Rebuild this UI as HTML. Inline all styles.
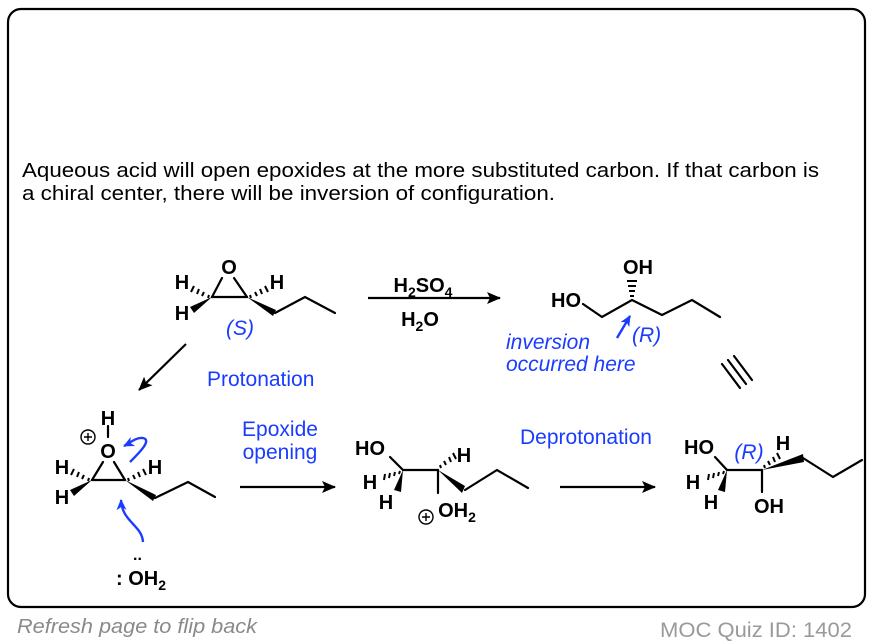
<!DOCTYPE html>
<html><head><meta charset="utf-8"><style>
html,body{margin:0;padding:0;background:#fff;}
svg{display:block;font-family:"Liberation Sans",sans-serif;}
.b{font-weight:bold;font-size:20px;fill:#000;}
.bl{fill:#1a3cff;font-size:21px;}
</style></head><body>
<svg width="872" height="642" viewBox="0 0 872 642" xmlns="http://www.w3.org/2000/svg">
<defs>
<marker id="ah" markerWidth="14" markerHeight="12" refX="13" refY="6" orient="auto" markerUnits="userSpaceOnUse"><path d="M0,0 L14,6 L0,12 L3,6 Z" fill="#000"/></marker>
<marker id="bh" markerWidth="12" markerHeight="10" refX="10" refY="5" orient="auto" markerUnits="userSpaceOnUse"><path d="M0,0 L11,5 L0,10 L3,5 Z" fill="#1a3cff"/></marker>
</defs>
<rect x="8" y="9" width="857" height="598" rx="13" fill="none" stroke="#000" stroke-width="2.2"/>
<text x="22" y="177" font-size="20" textLength="797" lengthAdjust="spacingAndGlyphs">Aqueous acid will open epoxides at the more substituted carbon. If that carbon is</text>
<text x="22" y="200" font-size="20" textLength="533" lengthAdjust="spacingAndGlyphs">a chiral center, there will be inversion of configuration.</text>
<text x="17" y="633" font-size="20.5" font-style="italic" fill="#8a8a8a" textLength="240" lengthAdjust="spacingAndGlyphs">Refresh page to flip back</text>
<text x="852" y="637" font-size="21" fill="#9a9a9a" text-anchor="end" textLength="192" lengthAdjust="spacingAndGlyphs">MOC Quiz ID: 1402</text>

<g stroke="#000" stroke-width="2.2" fill="none" stroke-linecap="round">
<line x1="222" y1="278" x2="212" y2="297"/><line x1="234" y1="278" x2="247" y2="297"/>
<line x1="212" y1="297" x2="247" y2="297"/>
<polyline points="275,313 305,297 335,313"/>
<polyline points="583,304 602,317 632,300 662,315 692,300 720,317"/>
<line x1="108" y1="426" x2="108" y2="437"/>
<line x1="103" y1="462" x2="92" y2="480"/><line x1="114" y1="462" x2="125" y2="480"/>
<line x1="92" y1="480" x2="125" y2="480"/>
<polyline points="155,498 188,482 215,497"/>
<line x1="390" y1="457" x2="403" y2="470"/><line x1="403" y1="470" x2="438" y2="470"/>
<line x1="438" y1="470" x2="438" y2="493"/>
<polyline points="465,490 497,470 528,488"/>
<line x1="715" y1="457" x2="727" y2="470"/><line x1="727" y1="470" x2="762" y2="470"/>
<line x1="762" y1="470" x2="762" y2="492"/>
<polyline points="803,458 833,477 862,460"/>
<line x1="722" y1="364" x2="740" y2="388"/><line x1="728" y1="360" x2="746" y2="384"/><line x1="734" y1="356" x2="752" y2="380"/>
</g>
<g stroke="#000" stroke-width="2.2">
<line x1="368" y1="298" x2="500" y2="298" marker-end="url(#ah)"/>
<line x1="186" y1="344" x2="139" y2="390" marker-end="url(#ah)"/>
<line x1="240" y1="487" x2="335" y2="487" marker-end="url(#ah)"/>
<line x1="560" y1="487" x2="655" y2="487" marker-end="url(#ah)"/>
</g>
<g fill="#000">
<polygon points="212,297 190,307 194,313"/>
<polygon points="247,297 276,310 273,316"/>
<polygon points="92,480 70,490 74,496"/>
<polygon points="125,480 156,495 153,501"/>
<polygon points="403,470 394,490 401,492"/>
<polygon points="438,470 465,486 462,493"/>
<polygon points="727,470 718,490 725,492"/>
<polygon points="762,470 803,454 804,462"/>
</g>
<g stroke="#000" stroke-width="2">
<path d="M209,295 l-1,3 M204,292 l-2,4 M199,289 l-2,5 M194,286 l-3,6"/>
<path d="M250,295 l1,3 M255,292 l2,4 M260,289 l2,5 M265,286 l3,6"/>
<path d="M89,478 l-1,3 M84,475 l-2,4 M79,472 l-2,5 M74,469 l-3,6"/>
<path d="M128,478 l1,3 M133,475 l2,4 M138,472 l2,5 M143,469 l3,6"/>
<path d="M630,296 h4 M629,291 h6 M628,286 h8 M627,281 h10"/>
<path d="M400,471 l-1,3 M395,472 l-1,4 M390,473 l-1,5 M385,474 l-1,6"/>
<path d="M441,468 l-1,-3 M446,465 l-2,-4 M451,462 l-2,-5 M456,459 l-3,-6"/>
<path d="M724,471 l-1,3 M719,472 l-1,4 M714,473 l-1,5 M709,474 l-1,6"/>
<path d="M765,468 l-1,-3 M770,465 l-2,-4 M775,462 l-2,-5 M780,459 l-3,-6"/>
</g>
<g class="b" text-anchor="middle">
<text x="229" y="274">O</text>
<text x="182" y="289">H</text><text x="182" y="320">H</text><text x="277" y="289">H</text>
<text x="423" y="292">H<tspan font-size="14" dy="5">2</tspan><tspan dy="-5">SO</tspan><tspan font-size="14" dy="5">4</tspan></text>
<text x="420" y="326">H<tspan font-size="14" dy="5">2</tspan><tspan dy="-5">O</tspan></text>
<text x="566" y="307">HO</text><text x="638" y="274">OH</text>
<text x="108" y="425">H</text><text x="108" y="458">O</text>
<text x="62" y="474">H</text><text x="62" y="504">H</text><text x="155" y="474">H</text>
<text x="141" y="585">: OH<tspan font-size="14" dy="5">2</tspan></text>
<text x="370" y="455">HO</text><text x="370" y="489">H</text><text x="386" y="509">H</text><text x="464" y="462">H</text>
<text x="457" y="517">OH<tspan font-size="14" dy="5">2</tspan></text>
<text x="699" y="454">HO</text><text x="693" y="489">H</text><text x="711" y="509">H</text><text x="783" y="450">H</text>
<text x="769" y="513">OH</text>
</g>
<text x="133" y="560" font-size="16" font-weight="bold">..</text>
<g fill="none" stroke="#000" stroke-width="1.4">
<circle cx="88" cy="437" r="7"/><path d="M84,437 h8 M88,433 v8"/>
<circle cx="426" cy="517" r="7"/><path d="M422,517 h8 M426,513 v8"/>
</g>
<g class="bl" font-style="italic">
<text x="240" y="335" text-anchor="middle">(S)</text>
<text x="632" y="342">(R)</text>
<text x="506" y="349">inversion</text>
<text x="506" y="371">occurred here</text>
<text x="749" y="459" text-anchor="middle">(R)</text>
</g>
<g class="bl">
<text x="207" y="386">Protonation</text>
<text x="280" y="436" text-anchor="middle">Epoxide</text>
<text x="280" y="459" text-anchor="middle">opening</text>
<text x="520" y="444">Deprotonation</text>
</g>
<g stroke="#1a3cff" stroke-width="2.4" fill="none">
<line x1="617" y1="338" x2="630" y2="316" marker-end="url(#bh)"/>
<path d="M130,462 C140,452 152,440 143,438 C136,437 130,443 124,446" marker-end="url(#bh)"/>
<path d="M143,542 C142,525 122,522 121,500" marker-end="url(#bh)"/>
</g>
</svg>
</body></html>
